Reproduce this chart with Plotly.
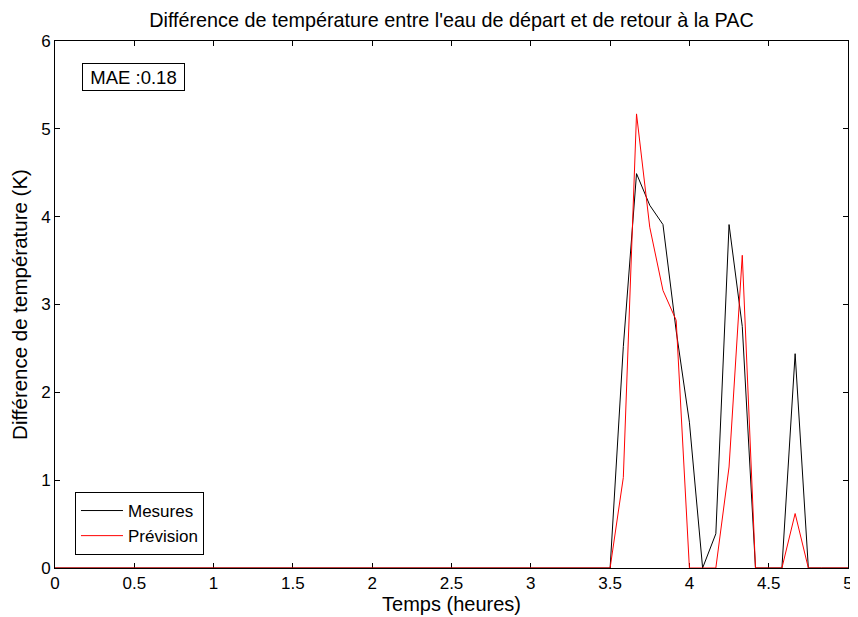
import plotly.graph_objects as go

# time grid: 5-minute steps from 0 to 5 hours
temps_h = [i * 5 / 60 for i in range(61)]

mesures = [0.0] * 42 + [0.0, 2.52, 4.49, 4.13, 3.91, 2.70, 1.66, 0.0, 0.39, 3.91,
                        2.75, 0.0, 0.0, 0.0, 2.44, 0.0, 0.0, 0.0, 0.0]
prevision = [0.0] * 42 + [0.0, 1.03, 5.17, 3.88, 3.16, 2.82, 0.0, 0.0, 0.0, 1.15,
                          3.56, 0.0, 0.0, 0.0, 0.62, 0.0, 0.0, 0.0, 0.0]

x_ticks = [0, 0.5, 1, 1.5, 2, 2.5, 3, 3.5, 4, 4.5, 5]
x_labels = ["0", "0.5", "1", "1.5", "2", "2.5", "3", "3.5", "4", "4.5", "5"]
y_ticks = [0, 1, 2, 3, 4, 5, 6]

FONT = "Liberation Sans, Arial, sans-serif"

fig = go.Figure()
fig.add_trace(go.Scatter(x=temps_h, y=mesures, mode="lines", name="Mesures",
                         line=dict(color="black", width=1)))
fig.add_trace(go.Scatter(x=temps_h, y=prevision, mode="lines", name="Prévision",
                         line=dict(color="red", width=1)))

axis_common = dict(showline=True, linecolor="black", linewidth=1, mirror="ticks",
                   ticks="inside", ticklen=5, tickcolor="black", showgrid=False,
                   zeroline=False, layer="below traces", automargin=False,
                   tickfont=dict(family=FONT, size=17, color="black"))

fig.update_xaxes(range=[0, 5], tickvals=x_ticks, ticktext=x_labels,
                 title=dict(text="Temps (heures)", font=dict(family=FONT, size=20, color="black"),
                            standoff=4),
                 **axis_common)
fig.update_yaxes(range=[0, 6], tickvals=y_ticks,
                 title=dict(text="Différence de température (K)",
                            font=dict(family=FONT, size=20.5, color="black"), standoff=8),
                 **axis_common)

# the page body adds an 8px margin, so the figure is sized to fit the window
fig.update_layout(
    width=850, height=609,
    margin=dict(l=47, r=10, t=33, b=49),
    paper_bgcolor="white", plot_bgcolor="white",
    title=dict(text="Différence de température entre l'eau de départ et de retour à la PAC",
               font=dict(family=FONT, size=19.8, color="black"),
               x=0.5, xref="paper", xanchor="center", y=0.980, yanchor="middle"),
    font=dict(family=FONT, color="black"),
    legend=dict(x=0.0252, y=0.0247, xanchor="left", yanchor="bottom",
                bordercolor="black", borderwidth=1, bgcolor="white",
                font=dict(family=FONT, size=17, color="black"),
                tracegroupgap=0, itemwidth=42),
    showlegend=True,
)

fig.add_annotation(text="MAE :0.18", xref="paper", yref="paper", x=0.034, y=0.958,
                   xanchor="left", yanchor="top", showarrow=False,
                   width=99, height=24, align="center", valign="middle",
                   font=dict(family=FONT, size=18.5, color="black"),
                   bordercolor="black", borderwidth=1, borderpad=1, bgcolor="white")

fig.write_html("out.html")
